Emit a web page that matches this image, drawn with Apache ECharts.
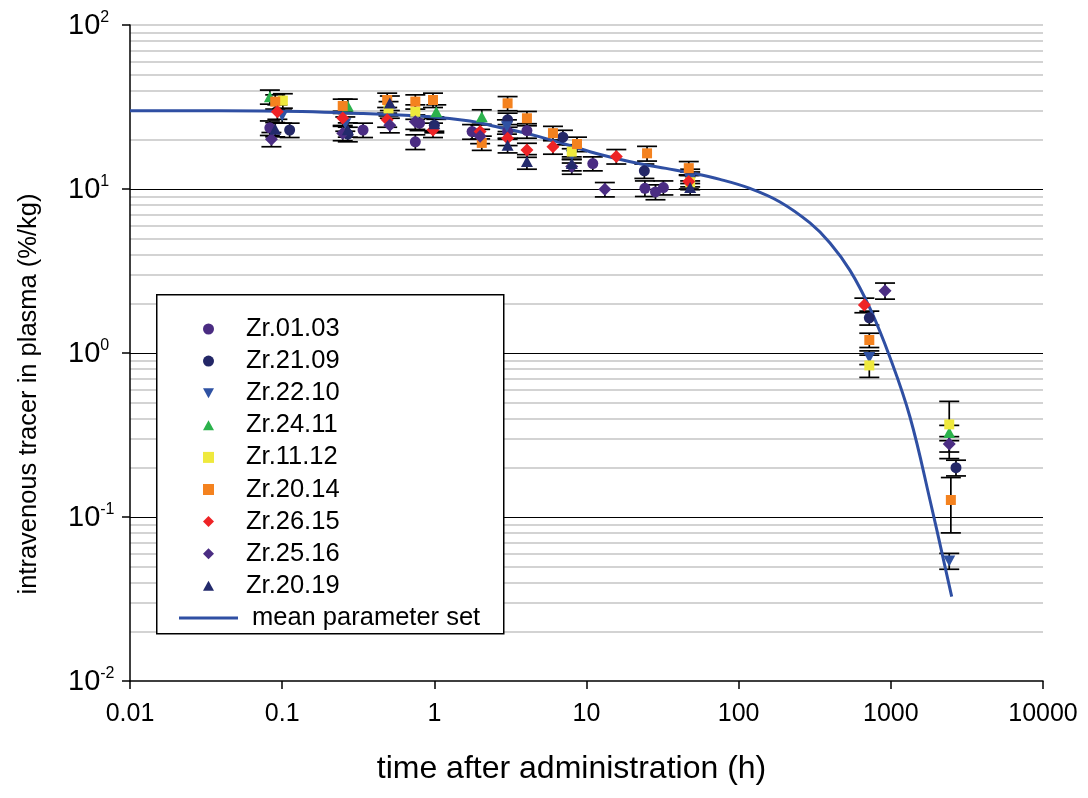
<!DOCTYPE html>
<html>
<head>
<meta charset="utf-8">
<title>tracer in plasma</title>
<script src="https://cdn.jsdelivr.net/npm/echarts@6/dist/echarts.min.js"></script>
<style>
  html, body { margin: 0; padding: 0; background: #fff; }
  #chart { width: 1088px; height: 798px; }
</style>
</head>
<body>
<div id="chart"></div>
<script>
// measured data: [time (h), value (%/kg), error]
const zr0103 = [[0.083, 23.6, 2.4], [0.34, 22.9, 2.3], [0.75, 19.4, 2.0], [0.8, 25.2, 2.5], [1.77, 22.4, 2.3], [3.03, 22.4, 2.3], [4.06, 22.7, 2.3], [11.0, 14.3, 1.4], [24.2, 10.1, 1.1], [28.4, 9.6, 1.0], [32.0, 10.2, 1.0]]
const zr2109 = [[0.112, 22.9, 2.3], [0.27, 21.6, 2.2], [1.0, 24.5, 2.5], [3.03, 26.4, 2.6], [7.0, 20.7, 2.1], [24.0, 12.9, 1.3], [48, 12.0, 1.2], [722, 1.64, 0.16], [2680, 0.2, 0.022]]
const zr2210 = [[0.1, 28, 2.8], [0.26, 25, 2.5], [3.0, 24, 2.4], [8.0, 16, 1.6], [48, 11.5, 1.2], [722, 0.94, 0.09], [2420, 0.054, 0.006]]
const zr2411 = [[0.083, 36.5, 3.6], [0.27, 32.1, 3.2], [1.03, 29.6, 3.0], [2.05, 27.6, 2.8], [2420, 0.327, 0.035]]
const zr1112 = [[0.101, 34.6, 3.5], [0.5, 31.0, 3.1], [0.75, 29.6, 3.0], [8.0, 16.9, 1.7], [48, 11.0, 1.1], [722, 0.84, 0.13], [2420, 0.367, 0.14]]
const zr2014 = [[0.09, 34.1, 3.4], [0.25, 32.1, 3.2], [0.49, 34.9, 3.5], [0.75, 34.1, 3.4], [0.98, 34.9, 3.5], [2.05, 19.1, 1.9], [3.03, 33.3, 3.3], [4.06, 27.0, 2.7], [6.02, 21.9, 2.2], [8.66, 18.8, 1.9], [25, 16.5, 1.7], [47, 13.4, 1.3], [722, 1.2, 0.12], [2480, 0.127, 0.047]]
const zr2615 = [[0.093, 29.6, 3.0], [0.25, 27.1, 2.7], [0.49, 26.4, 2.6], [0.98, 22.9, 2.3], [2.0, 22.4, 2.2], [3.03, 20.4, 2.0], [4.06, 17.3, 1.7], [6.02, 18.1, 1.8], [15.7, 15.8, 1.6], [47, 11.1, 1.1], [670, 1.96, 0.2]]
const zr2516 = [[0.085, 20.1, 2.0], [0.25, 21.9, 2.2], [0.51, 24.5, 2.5], [0.75, 25.7, 2.6], [2.0, 21.0, 2.1], [8.0, 13.7, 1.4], [13.2, 9.95, 1.0], [916, 2.40, 0.27], [2420, 0.279, 0.03]]
const zr2019 = [[0.09, 23.1, 2.3], [0.27, 23.0, 2.3], [0.51, 33.5, 3.4], [1.0, 25.0, 2.5], [3.03, 18.5, 1.9], [4.06, 14.7, 1.5], [8.0, 14.3, 1.4], [48, 10.2, 1.0]]

// mean parameter set curve
const meanCurve = [[0.01, 30.0], [0.075, 29.9], [0.341, 28.9], [0.937, 27.6], [1.71, 26.0], [2.32, 24.5], [4.95, 20.8], [10.54, 16.88], [15.39, 15.41], [22.47, 14.27], [33.3, 13.36], [47.9, 12.57], [75.4, 11.44], [118.7, 10.08], [186.9, 8.34], [294.2, 6.21], [398.2, 4.69], [539, 3.19], [729.5, 1.87], [987.2, 0.939], [1336, 0.407], [1808, 0.127], [2512, 0.0327]]

const seriesNames = ['Zr.01.03', 'Zr.21.09', 'Zr.22.10', 'Zr.24.11', 'Zr.11.12', 'Zr.20.14', 'Zr.26.15', 'Zr.25.16', 'Zr.20.19']
const xTickLabels = ['0.01', '0.1', '1', '10', '100', '1000', '10000']
const yTickExponents = ['-2', '-1', '0', '1', '2']

const allSets = [zr0103, zr2109, zr2210, zr2411, zr1112, zr2014, zr2615, zr2516, zr2019]
const colors = ['#4a2c82', '#232767', '#2f52a3', '#2bb24c', '#efe93d', '#f4821f', '#ee2326', '#4b2d83', '#232a6c']
const downTri = 'path://M0,0 L12,0 L6,11 Z'
const upTri = 'path://M6,0 L12,11 L0,11 Z'
const symbols = ['circle', 'circle', downTri, upTri, 'rect', 'rect', 'diamond', 'diamond', upTri]
const sizes = [11, 11, [12, 11], [12, 11], 10, 10, 13, 13, [12, 11]]
const FONT = 'Liberation Sans, Arial, sans-serif'

// grid lines (major black, minor grey)
const gridLines = []
for (let k = -2; k <= 1; k++) {
  for (let m = 1; m <= 9; m++) {
    const v = m * Math.pow(10, k)
    if (m === 1 && k === -2) continue
    gridLines.push({
      yAxis: v,
      lineStyle: m === 1 ? { color: '#000', width: 1.2, type: 'solid' } : { color: '#c4c4c4', width: 1.5, type: 'solid' }
    })
  }
}
gridLines.push({ yAxis: 100, lineStyle: { color: '#c4c4c4', width: 1.5, type: 'solid' } })

function errorBar (params, api) {
  const x = api.value(0)
  const y = api.value(1)
  const e = api.value(2)
  const hi = api.coord([x, y + e])
  const lo = api.coord([x, y - e])
  const hw = 10
  const style = { stroke: '#000', lineWidth: 1.7 }
  return {
    type: 'group',
    children: [
      { type: 'line', shape: { x1: hi[0], y1: hi[1], x2: lo[0], y2: lo[1] }, style },
      { type: 'line', shape: { x1: hi[0] - hw, y1: hi[1], x2: hi[0] + hw, y2: hi[1] }, style },
      { type: 'line', shape: { x1: lo[0] - hw, y1: lo[1], x2: lo[0] + hw, y2: lo[1] }, style }
    ]
  }
}

const series = [
  {
    name: 'grid',
    type: 'line',
    data: [],
    silent: true,
    z: 0,
    markLine: { silent: true, z: 0, symbol: 'none', label: { show: false }, animation: false, data: gridLines }
  },
  {
    name: 'err',
    type: 'custom',
    renderItem: errorBar,
    data: [].concat(...allSets),
    encode: { x: 0, y: 1 },
    z: 1,
    silent: true
  },
  {
    name: 'mean parameter set',
    type: 'line',
    data: meanCurve,
    smooth: 0.4,
    showSymbol: false,
    symbol: 'none',
    lineStyle: { color: '#2f4fa3', width: 3 },
    itemStyle: { color: '#2f4fa3' },
    z: 2
  }
]
seriesNames.forEach((name, i) => {
  series.push({
    name,
    type: 'scatter',
    data: allSets[i],
    symbol: symbols[i],
    symbolSize: sizes[i],
    itemStyle: { color: colors[i], opacity: 1 },
    z: 3
  })
})

const chart = echarts.init(document.getElementById('chart'))
chart.setOption({
  animation: false,
  backgroundColor: '#fff',
  grid: { left: 130, right: 45, top: 25, bottom: 117 },
  xAxis: {
    type: 'log',
    logBase: 10,
    min: 0.01,
    max: 10000,
    name: 'time after administration (h)',
    nameLocation: 'middle',
    nameGap: 72,
    nameTextStyle: { fontFamily: FONT, fontSize: 32, color: '#000', padding: [0, 30, 0, 0] },
    axisLine: { lineStyle: { color: '#000', width: 1.5 } },
    axisTick: { length: 8, lineStyle: { color: '#000', width: 1.5 } },
    axisLabel: {
      margin: 21,
      fontFamily: FONT,
      fontSize: 25,
      color: '#000',
      formatter: v => xTickLabels[Math.round(Math.log10(v)) + 2]
    },
    splitLine: { show: false }
  },
  yAxis: {
    type: 'log',
    logBase: 10,
    min: 0.01,
    max: 100,
    name: 'intravenous tracer in plasma (%/kg)',
    nameLocation: 'middle',
    nameGap: 88,
    nameTextStyle: { fontFamily: FONT, fontSize: 25.5, color: '#000', padding: [0, 82, 0, 0] },
    axisLine: { show: true, lineStyle: { color: '#000', width: 1.5 } },
    axisTick: { length: 8, lineStyle: { color: '#000', width: 1.5 } },
    axisLabel: {
      margin: 62,
      align: 'left',
      color: '#000',
      formatter: v => '{b|10}{s|' + yTickExponents[Math.round(Math.log10(v)) + 2] + '}',
      rich: {
        b: { fontFamily: FONT, fontSize: 29, color: '#000', lineHeight: 30, verticalAlign: 'bottom' },
        s: { fontFamily: FONT, fontSize: 16, color: '#000', lineHeight: 30, verticalAlign: 'top' }
      }
    },
    splitLine: { show: false }
  },
  graphic: [
    {
      type: 'rect',
      left: 156,
      top: 294,
      z: 10,
      shape: { width: 347, height: 339 },
      style: { fill: '#fff', stroke: '#000', lineWidth: 1.5 }
    }
  ],
  legend: [
    {
      data: seriesNames,
      orient: 'vertical',
      left: 198,
      top: 311,
      itemWidth: 11,
      itemHeight: 11,
      itemGap: 6.1,
      z: 20,
      formatter: name => '{n|' + name + '}',
      textStyle: {
        color: '#000',
        rich: { n: { fontFamily: FONT, fontSize: 25.5, color: '#000', padding: [0, 0, 0, 27] } }
      }
    },
    {
      data: [{ name: 'mean parameter set', icon: 'rect' }],
      orient: 'vertical',
      left: 174,
      top: 600,
      itemWidth: 59,
      itemHeight: 3,
      z: 20,
      formatter: name => '{n|' + name + '}',
      textStyle: {
        color: '#000',
        rich: { n: { fontFamily: FONT, fontSize: 25.5, color: '#000', padding: [0, 0, 0, 9] } }
      }
    }
  ],
  series
})
</script>
</body>
</html>
